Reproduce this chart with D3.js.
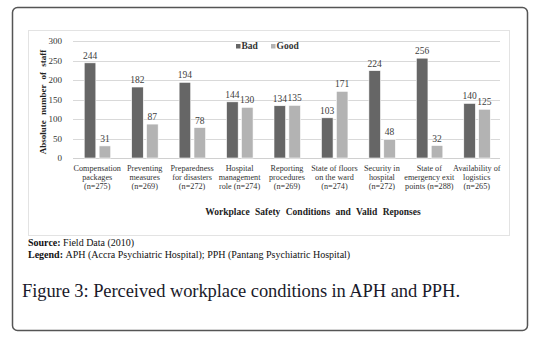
<!DOCTYPE html>
<html>
<head>
<meta charset="utf-8">
<script src="https://cdn.jsdelivr.net/npm/d3@7"></script>
<style>
  body { margin: 0; background: #fff; }
</style>
</head>
<body>
<div class="vis"></div>
<script>
// data
const categories = [
  ['Compensation', 'packages', '(n=275)'],
  ['Preventing', 'measures', '(n=269)'],
  ['Preparedness', 'for disasters', '(n=272)'],
  ['Hospital', 'management', 'role (n=274)'],
  ['Reporting', 'procedures', '(n=269)'],
  ['State of floors', 'on the ward', '(n=274)'],
  ['Security in', 'hospital', '(n=272)'],
  ['State of', 'emergency exit', 'points (n=288)'],
  ['Availability of', 'logistics', '(n=265)']
];
const bad = [244, 182, 194, 144, 134, 103, 224, 256, 140];
const good = [31, 87, 78, 130, 135, 171, 48, 32, 125];
const seriesNames = ['Bad', 'Good'];
const yTicks = [0, 50, 100, 150, 200, 250, 300];

const width = 535, height = 339;
const plot = { left: 73, right: 500, top: 41, bottom: 158 };
const colors = { Bad: '#666666', Good: '#b3b3b3' };
const serif = '"Liberation Serif", "DejaVu Serif", "Times New Roman", serif';

const svg = d3.select('.vis').append('svg')
  .attr('width', width).attr('height', height)
  .attr('font-family', serif);

// outer frame
svg.append('rect')
  .attr('x', 12.5).attr('y', 7.5).attr('width', 515).attr('height', 323)
  .attr('rx', 5).attr('fill', '#fff')
  .attr('stroke', '#555').attr('stroke-width', 1.5);

// chart box
svg.append('rect')
  .attr('x', 28.5).attr('y', 30.5).attr('width', 481).attr('height', 205)
  .attr('fill', '#fff').attr('stroke', '#e3e3e3');

const x = d3.scaleBand()
  .domain(d3.range(categories.length))
  .range([plot.left, plot.right]);
const xs = d3.scaleBand()
  .domain(seriesNames)
  .range([x.bandwidth() / 2 - 12.5, x.bandwidth() / 2 + 14])
  .paddingInner(0.22);
const y = d3.scaleLinear().domain([0, 300]).range([plot.bottom, plot.top]);

// gridlines
svg.append('g').selectAll('line')
  .data(yTicks.slice(1))
  .enter().append('line')
  .attr('x1', plot.left).attr('x2', plot.right)
  .attr('y1', d => Math.round(y(d)) + 0.5).attr('y2', d => Math.round(y(d)) + 0.5)
  .attr('stroke', '#d9d9d9');

// y axis
const yAxis = svg.append('g')
  .attr('transform', 'translate(' + plot.left + ',0)')
  .call(d3.axisLeft(y).tickValues(yTicks).tickSize(0).tickPadding(11))
  .attr('font-family', serif);
yAxis.select('.domain').remove();
yAxis.selectAll('text').attr('font-size', 9).attr('fill', '#333');

// baseline
svg.append('line')
  .attr('x1', plot.left).attr('x2', plot.right)
  .attr('y1', Math.round(y(0)) + 0.5).attr('y2', Math.round(y(0)) + 0.5)
  .attr('stroke', '#d0d0d0');

const rows = categories.map((c, i) => ({ i, Bad: bad[i], Good: good[i] }));

const groups = svg.append('g').selectAll('g')
  .data(rows).enter().append('g')
  .attr('transform', d => 'translate(' + x(d.i) + ',0)');

groups.selectAll('rect')
  .data(d => seriesNames.map(k => ({ key: k, value: d[k] })))
  .enter().append('rect')
  .attr('x', d => xs(d.key))
  .attr('width', xs.bandwidth())
  .attr('y', d => y(d.value))
  .attr('height', d => y(0) - y(d.value))
  .attr('fill', d => colors[d.key])
  .attr('stroke', '#fff').attr('stroke-width', 0.6);

groups.selectAll('text.val')
  .data(d => seriesNames.map(k => ({ key: k, value: d[k] })))
  .enter().append('text')
  .attr('class', 'val')
  .attr('x', d => xs(d.key) + xs.bandwidth() / 2)
  .attr('y', d => y(d.value) - 4)
  .attr('text-anchor', 'middle')
  .attr('font-size', 9.5).attr('fill', '#404040')
  .text(d => d.value);

// category labels
groups.append('text')
  .attr('text-anchor', 'middle')
  .attr('font-size', 8.2).attr('fill', '#333')
  .selectAll('tspan')
  .data(d => categories[d.i])
  .enter().append('tspan')
  .attr('x', x.bandwidth() / 2 + 0.5)
  .attr('y', (d, j) => 170.5 + j * 9)
  .text(d => d);

// legend
const legend = svg.append('g').attr('transform', 'translate(236,47.5)');
seriesNames.forEach((k, i) => {
  const g = legend.append('g').attr('transform', 'translate(' + (i * 35) + ',0)');
  g.append('rect').attr('x', 0).attr('y', -3.5).attr('width', 4.5).attr('height', 4.5)
    .attr('fill', colors[k]);
  g.append('text').attr('x', 5.5).attr('y', 1.5).attr('font-size', 9.5)
    .attr('font-weight', 'bold').attr('fill', '#333').text(k);
});

// axis titles
svg.append('text')
  .attr('transform', 'translate(46,102) rotate(-90)')
  .attr('text-anchor', 'middle')
  .attr('font-size', 9).attr('font-weight', 'bold')
  .attr('fill', '#222').attr('word-spacing', 3)
  .text('Absolute number of staff');

svg.append('text')
  .attr('x', 313).attr('y', 215)
  .attr('text-anchor', 'middle')
  .attr('font-size', 9.5).attr('font-weight', 'bold')
  .attr('fill', '#222').attr('word-spacing', 3)
  .text('Workplace Safety Conditions and Valid Reponses');

// notes
const src = svg.append('text').attr('x', 28).attr('y', 246)
  .attr('font-size', 10).attr('fill', '#111');
src.append('tspan').attr('font-weight', 'bold').text('Source: ');
src.append('tspan').text('Field Data (2010)');

const leg = svg.append('text').attr('x', 28).attr('y', 257.5)
  .attr('font-size', 10).attr('fill', '#111');
leg.append('tspan').attr('font-weight', 'bold').text('Legend: ');
leg.append('tspan').text('APH (Accra Psychiatric Hospital); PPH (Pantang Psychiatric Hospital)');

// caption
svg.append('text')
  .attr('x', 22).attr('y', 297)
  .attr('font-size', 18.5).attr('fill', '#1a1a2a')
  .attr('textLength', 438).attr('lengthAdjust', 'spacing')
  .text('Figure 3: Perceived workplace conditions in APH and PPH.');
</script>
</body>
</html>
